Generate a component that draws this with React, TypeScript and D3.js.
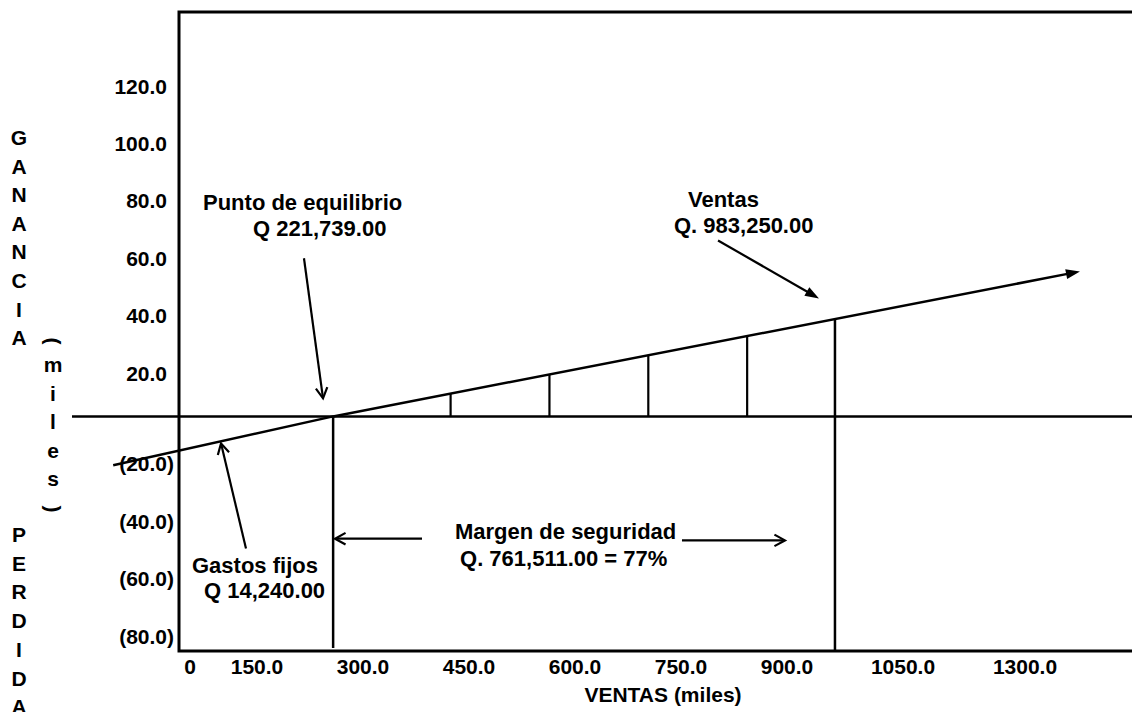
import React, { useEffect, useRef } from "react";
import * as d3 from "d3";

const W = 1132;
const H = 712;

// eje Y: ganancia / pérdida (miles)
const yTicks = [120, 100, 80, 60, 40, 20, -20, -40, -60, -80];
// eje X: ventas (miles)
const xTicks = [0, 150, 300, 450, 600, 750, 900, 1050, 1300];
const xTickLabels = ["0", "150.0", "300.0", "450.0", "600.0", "750.0", "900.0", "1050.0", "1300.0"];

// recta de utilidad (ventas -> ganancia)
const lineSales = [-112, 221.739, 1355];
const lineProfit = [-17, 0, 50.5];

const breakEven = 221.739;
const salesTotal = 983.25;
const dropSales = [400, 550, 700, 850];

const sideTop = "GANANCIA".split("");
const sideBottom = "PERDIDA".split("");
const sideMid = ["m", "i", "l", "e", "s"];

// notas (texto, posición en unidades de datos)
const noteLines = [
  "Punto de equilibrio", "Q 221,739.00",
  "Ventas", "Q. 983,250.00",
  "Gastos fijos", "Q 14,240.00",
  "Margen de seguridad", "Q. 761,511.00 = 77%",
];
const noteX = [24.3, 100.2, 760.2, 739, 7.6, 25.8, 406.7, 414.3];
const noteY = [71.8, 62.7, 72.8, 63.8, -54.4, -63.4, -42.6, -52];

// flechas [x0, y0, x1, y1] en unidades de datos
const arrowFrom = [[177.5, 55.1], [805.8, 61.3], [89.5, -46], [356.6, -42.6], [751.1, -43.2]];
const arrowTo = [[206.4, 6.3], [959, 41.1], [51.6, -9.4], [224.6, -42.6], [907.4, -43.2]];
const arrowFilled = [false, true, false, false, false];

const FONT = "'Liberation Sans', Arial, sans-serif";

const App: React.FC = () => {
  const svgRef = useRef<SVGSVGElement>(null);

  useEffect(() => {
    if (!svgRef.current) return;
    const svg = d3.select(svgRef.current);
    svg.selectAll("*").remove();

    const left = 179, top = 12, bottom = 651;

    const x = d3.scaleLinear().domain([0, 1300]).range([187, 1043.7]);
    const y = d3.scaleLinear().domain([-80, 120]).range([646, 72]);
    // las etiquetas del eje X no están espaciadas uniformemente en el original
    const xLab = d3.scaleLinear()
      .domain([0, 150, 300, 900, 1050, 1300])
      .range([190, 257, 363, 787, 903, 1025]);

    svg.append("rect").attr("width", W).attr("height", H).attr("fill", "white");

    // marco
    svg.append("path")
      .attr("d", `M${W + 4},${top} H${left} V${bottom} H${W + 4}`)
      .attr("fill", "none")
      .attr("stroke", "#000")
      .attr("stroke-width", 3);

    // línea de cero
    svg.append("line")
      .attr("x1", 72).attr("x2", W + 4)
      .attr("y1", y(0)).attr("y2", y(0))
      .attr("stroke", "#000").attr("stroke-width", 2.5);

    const profitAt = d3.scaleLinear().domain(lineSales).range(lineProfit);

    // líneas verticales
    dropSales.forEach(s => {
      svg.append("line")
        .attr("x1", x(s)).attr("x2", x(s))
        .attr("y1", y(profitAt(s))).attr("y2", y(0))
        .attr("stroke", "#000").attr("stroke-width", 2.2);
    });
    svg.append("line")
      .attr("x1", x(breakEven)).attr("x2", x(breakEven))
      .attr("y1", y(0)).attr("y2", bottom - 3)
      .attr("stroke", "#000").attr("stroke-width", 2.5);
    svg.append("line")
      .attr("x1", x(salesTotal)).attr("x2", x(salesTotal))
      .attr("y1", y(profitAt(salesTotal))).attr("y2", bottom)
      .attr("stroke", "#000").attr("stroke-width", 2.5);

    // recta de utilidad
    const line = d3.line<number>()
      .x(s => x(s))
      .y(s => y(profitAt(s)));
    const last = lineSales[lineSales.length - 1];
    const prev = lineSales[lineSales.length - 2];
    const ex = x(last), ey = y(profitAt(last));
    const ang = Math.atan2(ey - y(profitAt(prev)), ex - x(prev));
    svg.append("path")
      .datum([lineSales[0], lineSales[1], last - 15])
      .attr("d", line)
      .attr("fill", "none")
      .attr("stroke", "#000")
      .attr("stroke-width", 2.5);

    const filledHead = (hx: number, hy: number, a: number, len = 14, half = 5) => {
      const bx = hx - len * Math.cos(a), by = hy - len * Math.sin(a);
      const px = -Math.sin(a) * half, py = Math.cos(a) * half;
      svg.append("path")
        .attr("d", `M${hx},${hy} L${bx + px},${by + py} L${bx - px},${by - py} Z`)
        .attr("fill", "#000");
    };
    const openHead = (hx: number, hy: number, a: number, len = 12, spread = 0.5) => {
      const p1 = [hx - len * Math.cos(a - spread), hy - len * Math.sin(a - spread)];
      const p2 = [hx - len * Math.cos(a + spread), hy - len * Math.sin(a + spread)];
      svg.append("path")
        .attr("d", `M${p1[0]},${p1[1]} L${hx},${hy} L${p2[0]},${p2[1]}`)
        .attr("fill", "none")
        .attr("stroke", "#000")
        .attr("stroke-width", 2.2)
        .attr("stroke-linejoin", "miter");
    };
    filledHead(ex, ey, ang);

    // flechas de las notas
    arrowFrom.forEach((f, i) => {
      const x0 = x(f[0]), y0 = y(f[1]);
      const x1 = x(arrowTo[i][0]), y1 = y(arrowTo[i][1]);
      const a = Math.atan2(y1 - y0, x1 - x0);
      const cut = arrowFilled[i] ? 10 : 1;
      svg.append("line")
        .attr("x1", x0).attr("y1", y0)
        .attr("x2", x1 - cut * Math.cos(a)).attr("y2", y1 - cut * Math.sin(a))
        .attr("stroke", "#000").attr("stroke-width", 2.2);
      if (arrowFilled[i]) filledHead(x1, y1, a);
      else openHead(x1, y1, a);
    });

    const text = (g: d3.Selection<any, any, any, any>) =>
      g.attr("font-family", FONT).attr("font-weight", "bold").attr("fill", "#000");

    // etiquetas eje Y
    yTicks.forEach(v => {
      text(svg.append("text"))
        .attr("x", v > 0 ? 167 : 174)
        .attr("y", v > 0 ? y(v) + 21.5 : y(v) - 2.5)
        .attr("text-anchor", "end")
        .attr("font-size", 21)
        .text(v > 0 ? d3.format(".1f")(v) : `(${d3.format(".1f")(-v)})`);
    });

    // etiquetas eje X
    xTicks.forEach((v, i) => {
      text(svg.append("text"))
        .attr("x", xLab(v))
        .attr("y", 674)
        .attr("text-anchor", "middle")
        .attr("font-size", 21)
        .text(xTickLabels[i]);
    });

    text(svg.append("text"))
      .attr("x", 663).attr("y", 702)
      .attr("text-anchor", "middle")
      .attr("font-size", 21)
      .text("VENTAS (miles)");

    // títulos verticales
    sideTop.forEach((c, i) => {
      text(svg.append("text"))
        .attr("x", 19).attr("y", 145 + i * 28.6)
        .attr("text-anchor", "middle").attr("font-size", 21)
        .text(c);
    });
    sideBottom.forEach((c, i) => {
      text(svg.append("text"))
        .attr("x", 19).attr("y", 542 + i * 28.7)
        .attr("text-anchor", "middle").attr("font-size", 21)
        .text(c);
    });
    sideMid.forEach((c, i) => {
      text(svg.append("text"))
        .attr("x", 53).attr("y", 372 + i * 28.6)
        .attr("text-anchor", "middle").attr("font-size", 21)
        .text(c);
    });
    [["(", 341], [")", 509]].forEach(([c, cy]) => {
      text(svg.append("text"))
        .attr("transform", `translate(53,${cy}) rotate(90)`)
        .attr("text-anchor", "middle")
        .attr("dominant-baseline", "central")
        .attr("font-size", 21)
        .text(c as string);
    });

    // notas
    noteLines.forEach((t, i) => {
      text(svg.append("text"))
        .attr("x", x(noteX[i]))
        .attr("y", y(noteY[i]))
        .attr("font-size", 22)
        .text(t);
    });
  }, []);

  return (
    <svg
      ref={svgRef}
      width={W}
      height={H}
      style={{ position: "absolute", left: 0, top: 0, display: "block" }}
    />
  );
};

export default App;
